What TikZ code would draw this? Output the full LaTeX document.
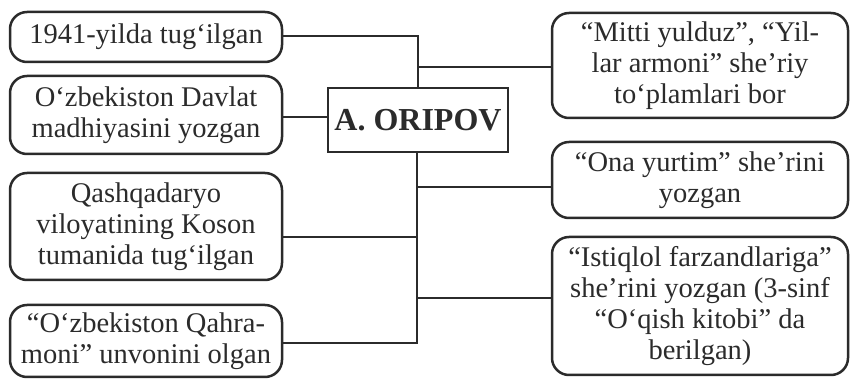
\documentclass[tikz,border=0pt]{standalone}
\usepackage{fontspec}
\setmainfont{Liberation Serif}
\definecolor{ink}{HTML}{2B2B2B}
\begin{document}
\begin{tikzpicture}[x=1pt,y=-1pt,
  box/.style={draw=ink,line width=2.5pt,rounded corners=17pt,align=center,inner sep=0pt,
    font=\fontsize{28.5}{31}\selectfont,text=ink},
  main/.style={draw=ink,line width=2.5pt,inner sep=0pt,font=\bfseries\fontsize{32}{31}\selectfont,text=ink},
  link/.style={draw=ink,line width=2.5pt}]
\useasboundingbox (0,0) rectangle (852,379);
\node[box,minimum width=272pt,minimum height=50pt] (L1) at (146,37) {1941-yilda tug‘ilgan};
\node[box,minimum width=272pt,minimum height=78pt] (L2) at (146,115) {O‘zbekiston Davlat\\madhiyasini yozgan};
\node[box,minimum width=272pt,minimum height=107pt] (L3) at (146,226.5) {Qashqadaryo\\viloyatining Koson\\tumanida tug‘ilgan};
\node[box,minimum width=272pt,minimum height=72pt] (L4) at (146,341) {“O‘zbekiston Qahra-\\moni” unvonini olgan};
\node[main,minimum width=180pt,minimum height=64pt] (C) at (418,120) {A. ORIPOV};
\node[box,minimum width=296pt,minimum height=105pt] (R1) at (700,65.5) {“Mitti yulduz”, “Yil-\\lar armoni” she’riy\\to‘plamlari bor};
\node[box,minimum width=296pt,minimum height=76pt] (R2) at (700,180) {“Ona yurtim” she’rini\\yozgan};
\node[box,minimum width=296pt,minimum height=138pt] (R3) at (700,306) {“Istiqlol farzandlariga”\\she’rini yozgan (3-sinf\\“O‘qish kitobi” da\\berilgan)};
\coordinate (tb) at ([xshift=-1pt]C.south |- L4.east);
\draw[link] ([yshift=1pt]L1.east) -| (C.north);
\draw[link] ([yshift=-1.5pt]C.north |- R1.west) -- ([yshift=-1.5pt]R1.west);
\draw[link] ([yshift=-2pt]L2.east) -- ([yshift=-2pt]L2.east -| C.west);
\draw[link] ([xshift=-1pt]C.south) -- ([yshift=-2pt]tb) -- ([yshift=-2pt]L4.east);
\draw[link] ([yshift=-7pt]tb |- R2.west) -- ([yshift=-7pt]R2.west);
\draw[link] ([yshift=-10.5pt]tb |- L3.east) -- ([yshift=-10.5pt]L3.east);
\draw[link] ([yshift=8pt]tb |- R3.west) -- ([yshift=8pt]R3.west);
\end{tikzpicture}
\end{document}
